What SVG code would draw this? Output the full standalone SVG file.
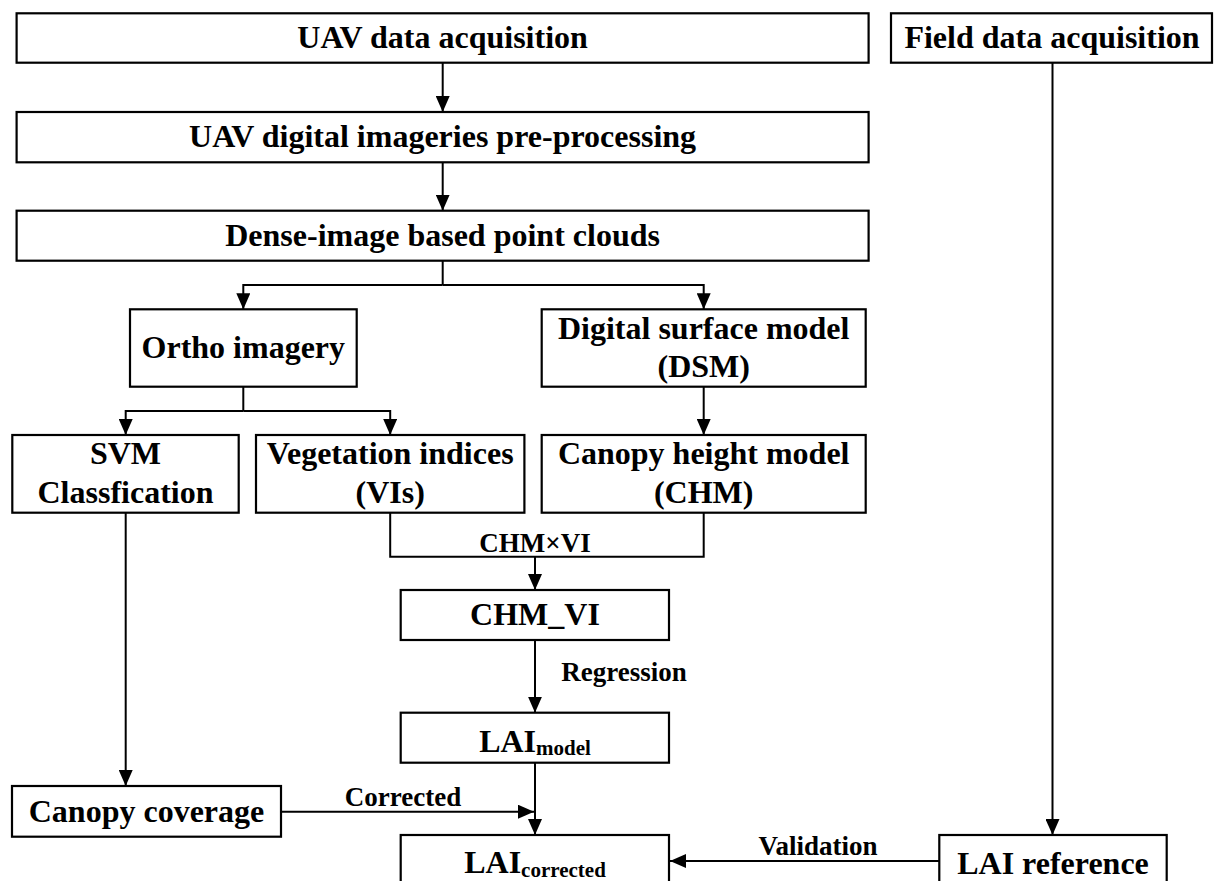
<svg xmlns="http://www.w3.org/2000/svg" width="1214" height="881" viewBox="0 0 1214 881">
<style>
  .box{fill:#fff;stroke:#000;stroke-width:2.2}
  .t{font-family:"Liberation Serif","Times New Roman",serif;font-weight:bold;font-size:32px;fill:#000;text-anchor:middle}
  .lbl{font-family:"Liberation Serif","Times New Roman",serif;font-weight:bold;font-size:27px;fill:#000;text-anchor:middle}
  .c{fill:none;stroke:#000;stroke-width:2}
</style>
<defs>
  <marker id="arr" markerUnits="userSpaceOnUse" markerWidth="16" markerHeight="14" refX="16" refY="7" orient="auto">
    <path d="M0,0 L16,7 L0,14 z" fill="#000"/>
  </marker>
</defs>
<rect width="1214" height="881" fill="#fff"/>
<g id="connectors">
  <path class="c" d="M442.7,62.7 V112" marker-end="url(#arr)"/>
  <path class="c" d="M442.7,162.3 V210.7" marker-end="url(#arr)"/>
  <path class="c" d="M442.7,260.7 V285"/>
  <path class="c" d="M442.7,285 H243.3 V309.3" marker-end="url(#arr)"/>
  <path class="c" d="M442.7,285 H703.7 V309.3" marker-end="url(#arr)"/>
  <path class="c" d="M243.3,386.7 V411"/>
  <path class="c" d="M243.3,411 H125.7 V435" marker-end="url(#arr)"/>
  <path class="c" d="M243.3,411 H390.2 V435" marker-end="url(#arr)"/>
  <path class="c" d="M703.7,386.7 V435" marker-end="url(#arr)"/>
  <path class="c" d="M390.2,512.7 V556.7 H703.7 V512.7"/>
  <path class="c" d="M535,556.7 V590" marker-end="url(#arr)"/>
  <text class="lbl" x="535" y="551.7">CHM×VI</text>
  <path class="c" d="M535,640 V712.7" marker-end="url(#arr)"/>
  <text class="lbl" x="624" y="680.7">Regression</text>
  <path class="c" d="M125.7,512.7 V786" marker-end="url(#arr)"/>
  <path class="c" d="M281,811.7 H534" marker-end="url(#arr)"/>
  <text class="lbl" x="403" y="806">Corrected</text>
  <path class="c" d="M535,762.7 V835" marker-end="url(#arr)"/>
  <path class="c" d="M1052.5,62.7 V835" marker-end="url(#arr)"/>
  <path class="c" d="M939.3,861 H670" marker-end="url(#arr)"/>
  <text class="lbl" x="818" y="855">Validation</text>
</g>
<g id="uav-acq">
  <rect class="box" x="16.6" y="13.3" width="852" height="49.4"/>
  <text class="t" x="442.6" y="48.3">UAV data acquisition</text>
</g>
<g id="field-acq">
  <rect class="box" x="891" y="13.3" width="321" height="49.4"/>
  <text class="t" x="1052" y="47.7">Field data acquisition</text>
</g>
<g id="preproc">
  <rect class="box" x="16.6" y="112" width="852" height="50.3"/>
  <text class="t" x="442.6" y="146.7">UAV digital imageries pre-processing</text>
</g>
<g id="dense">
  <rect class="box" x="16.6" y="210.7" width="852" height="50"/>
  <text class="t" x="442.6" y="245.7">Dense-image based point clouds</text>
</g>
<g id="ortho">
  <rect class="box" x="130" y="309.3" width="226.7" height="77.4"/>
  <text class="t" x="243.3" y="358.3">Ortho imagery</text>
</g>
<g id="dsm">
  <rect class="box" x="541.7" y="309.3" width="324" height="77.4"/>
  <text class="t" x="703.7" y="339.3">Digital surface model</text>
  <text class="t" x="703.7" y="377.3">(DSM)</text>
</g>
<g id="svm">
  <rect class="box" x="12.3" y="435" width="226.4" height="77.7"/>
  <text class="t" x="125.5" y="464.3">SVM</text>
  <text class="t" x="125.5" y="502.7">Classfication</text>
</g>
<g id="vi">
  <rect class="box" x="256" y="435" width="268.4" height="77.7"/>
  <text class="t" x="390.2" y="464.3">Vegetation indices</text>
  <text class="t" x="390.2" y="502.7">(VIs)</text>
</g>
<g id="chm">
  <rect class="box" x="541.7" y="435" width="324" height="77.7"/>
  <text class="t" x="703.7" y="464.3">Canopy height model</text>
  <text class="t" x="703.7" y="502.7">(CHM)</text>
</g>
<g id="chm-vi">
  <rect class="box" x="400.7" y="590" width="268.3" height="50"/>
  <text class="t" x="535" y="625">CHM_VI</text>
</g>
<g id="lai-model">
  <rect class="box" x="400.7" y="712.7" width="268.3" height="50"/>
  <text class="t" x="535" y="751.7">LAI<tspan font-size="21" dy="3.5">model</tspan></text>
</g>
<g id="canopy-coverage">
  <rect class="box" x="12" y="786" width="269" height="50.7"/>
  <text class="t" x="146.5" y="821.7">Canopy coverage</text>
</g>
<g id="lai-corrected">
  <rect class="box" x="400.7" y="835" width="268.3" height="60"/>
  <text class="t" x="535" y="873.3">LAI<tspan font-size="21" dy="3.5">corrected</tspan></text>
</g>
<g id="lai-reference">
  <rect class="box" x="939.3" y="835" width="227.4" height="60"/>
  <text class="t" x="1053" y="874">LAI reference</text>
</g>
</svg>
